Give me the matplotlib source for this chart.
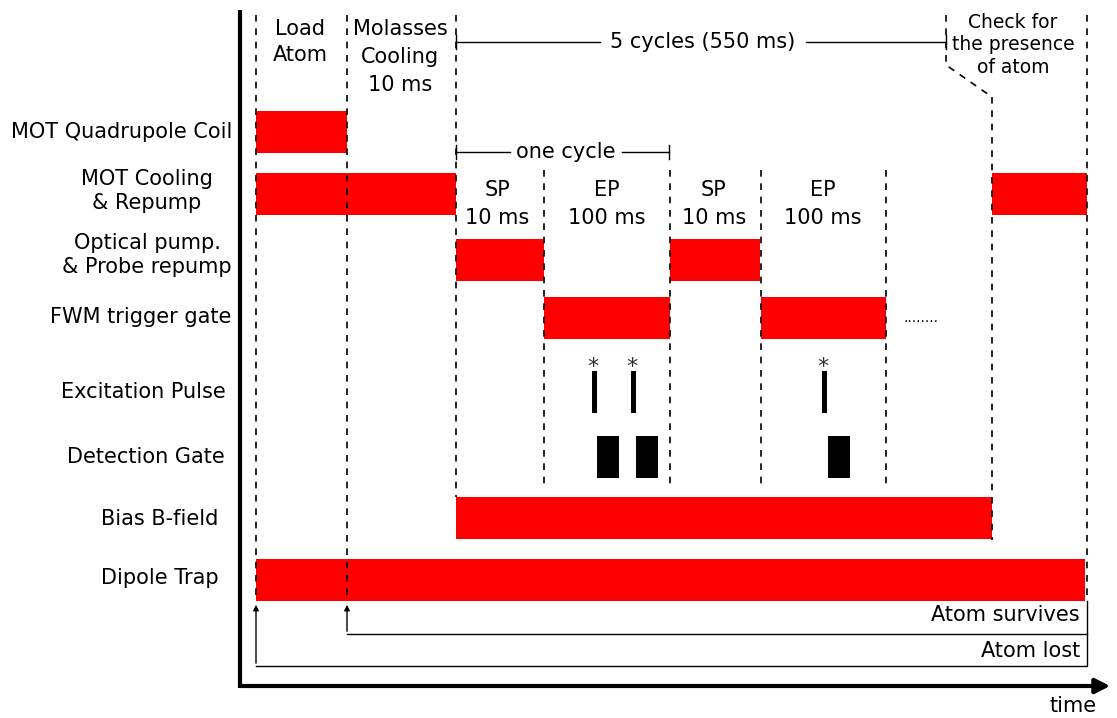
import matplotlib.pyplot as plt
import numpy as np

# ---- data (time axis in arbitrary drawing units) ----
rows = ["MOT Quadrupole Coil", "MOT Cooling\n& Repump", "Optical pump.\n& Probe repump",
        "FWM trigger gate", "Excitation Pulse", "Detection Gate", "Bias B-field", "Dipole Trap"]
row_y = [132, 194, 260, 318, 392, 457, 518, 580]
label_x = [122, 147, 147, 141, 143, 146, 160, 160]
label_y = [132, 191, 255, 317, 392, 457, 519, 578]

# red pulses: (row index, start, stop)
red_row = [0, 1, 1, 2, 2, 3, 3, 6, 7]
red_start = [256, 256, 992, 456, 670, 544, 761, 456, 256]
red_stop = [347, 456, 1087, 544, 760, 670, 886, 992, 1085]

# excitation pulses and detection gates
exc_start = [592, 631, 822]
exc_stop = [597, 636, 827]
det_start = [597, 636, 828]
det_stop = [619, 658, 850]

# event markers (dashed lines): x, top, bottom
evt_x = [256, 347, 456, 544, 670, 761, 886, 992, 1087]
evt_top = [15, 15, 15, 170, 170, 170, 170, 97, 15]
evt_bot = [600, 600, 497, 490, 490, 490, 490, 540, 600]

phase_text = ["SP\n10 ms", "EP\n100 ms", "SP\n10 ms", "EP\n100 ms"]
phase_x = [497, 607, 714, 823]

fig = plt.figure(figsize=(11.17, 7.18), dpi=100)
ax = fig.add_axes([0, 0, 1, 1])
ax.set_xlim(0, 1117)
ax.set_ylim(718, 0)
ax.axis("off")

fs = 15
h = 42

for r, a, b in zip(red_row, red_start, red_stop):
    ax.barh(row_y[r], b - a, left=a, height=h, color="#ff0000", zorder=2)
for a, b in zip(exc_start, exc_stop):
    ax.barh(row_y[4], b - a, left=a, height=h, color="black", zorder=2)
    ax.text((a + b) / 2 - 2, 377, "*", ha="center", va="bottom", fontsize=16, color="#333333")
for a, b in zip(det_start, det_stop):
    ax.barh(row_y[5], b - a, left=a, height=h, color="black", zorder=2)

for x, t, b in zip(evt_x, evt_top, evt_bot):
    ax.plot([x, x], [t, b], ls=(0, (4, 4)), color="black", lw=1.2, zorder=3)
# slanted dashed from the check window
ax.plot([946, 946, 992], [15, 65, 97], ls=(0, (4, 4)), color="black", lw=1.2, zorder=3)

for lab, x, y in zip(rows, label_x, label_y):
    ax.text(x, y, lab, ha="center", va="center", fontsize=fs, linespacing=1.3)

# top annotations
ax.text(300, 42, "Load\nAtom", ha="center", va="center", fontsize=fs, linespacing=1.35)
ax.text(400, 57, "Molasses\nCooling\n10 ms", ha="center", va="center", fontsize=fs, linespacing=1.5)
ax.text(1013, 45, "Check for\nthe presence\nof atom", ha="center", va="center", fontsize=13.5, linespacing=1.25)
for x, t in zip(phase_x, phase_text):
    ax.text(x, 204, t, ha="center", va="center", fontsize=fs, linespacing=1.5)
ax.text(921, 318, "........", ha="center", va="center", fontsize=10)

# span brackets
ax.plot([456, 600], [42, 42], color="black", lw=1)
ax.plot([806, 946], [42, 42], color="black", lw=1)
ax.plot([456, 456], [35, 49], color="black", lw=1)
ax.plot([946, 946], [35, 49], color="black", lw=1)
ax.text(703, 42, "5 cycles (550 ms)", ha="center", va="center", fontsize=fs)
ax.plot([456, 510], [152, 152], color="black", lw=1)
ax.plot([622, 669], [152, 152], color="black", lw=1)
ax.plot([456, 456], [145, 159], color="black", lw=1)
ax.plot([669, 669], [145, 159], color="black", lw=1)
ax.text(566, 152, "one cycle", ha="center", va="center", fontsize=fs)

# outcome arrows
ax.annotate("", xy=(347, 602), xytext=(347, 634),
            arrowprops=dict(arrowstyle="-|>", color="black", lw=1, mutation_scale=8))
ax.annotate("", xy=(256, 602), xytext=(256, 666),
            arrowprops=dict(arrowstyle="-|>", color="black", lw=1, mutation_scale=8))
ax.plot([347, 1087], [634, 634], color="black", lw=1)
ax.plot([256, 1087, 1087], [666, 666, 601], color="black", lw=1)
ax.text(1080, 615, "Atom survives", ha="right", va="center", fontsize=fs)
ax.text(1080, 651, "Atom lost", ha="right", va="center", fontsize=fs)

# time axes
ax.plot([240, 240], [10, 688], color="black", lw=3, solid_capstyle="butt")
ax.annotate("", xy=(1113, 686), xytext=(238, 686),
            arrowprops=dict(arrowstyle="-|>", color="black", lw=3, mutation_scale=22))
ax.text(1073, 706, "time", ha="center", va="center", fontsize=fs)

plt.savefig("out.png")
